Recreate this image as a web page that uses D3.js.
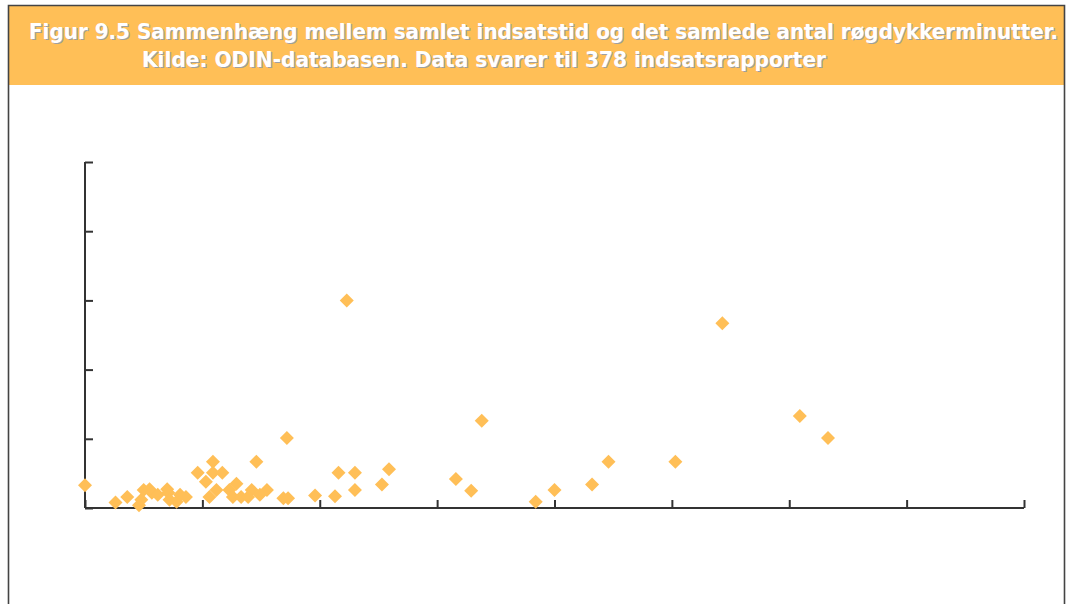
<html>
<head>
    <title>Figur 9.5</title>
    <script src="https://cdn.jsdelivr.net/npm/d3@7"></script>
    <style>
        body { margin: 0; background: #fff; }
        .title { font-family: "DejaVu Sans Condensed", "DejaVu Sans", sans-serif; font-weight: bold; font-size: 21px; }
    </style>
</head>
<body>
<script>
    // indsatstid (x) og roegdykkerminutter (y), aflaest fra figuren
    var indsatstid = [0, 26, 36, 46, 48, 50, 55, 57, 62, 70, 71, 72, 78, 81, 86,
        96, 103, 106, 109, 109, 117, 112, 123, 129, 126, 133, 142, 139, 146, 149, 155,
        169, 173, 172, 196, 213, 216, 223, 230, 230, 253, 259, 316, 329, 338, 384,
        400, 432, 446, 503, 543, 609, 633];
    var roegdykmin = [33, 8, 16, 4, 12, 26, 27, 22, 19, 27, 22, 12, 9, 19, 16,
        51, 38, 16, 67, 51, 51, 26, 26, 35, 16, 16, 26, 16, 67, 19, 26,
        14, 14, 101, 18, 17, 51, 300, 51, 26, 34, 56, 42, 25, 126, 9,
        26, 34, 67, 67, 267, 133, 101];
    var xTicks = [0, 100, 200, 300, 400, 500, 600, 700, 800];
    var yTicks = [0, 100, 200, 300, 400, 500];

    var titleLines = [
        "Figur 9.5 Sammenhæng mellem samlet indsatstid og det samlede antal røgdykkerminutter.",
        "Kilde: ODIN-databasen. Data svarer til 378 indsatsrapporter"
    ];

    var width = 1069, height = 604;
    var svg = d3.select("body").append("svg")
        .attr("width", width).attr("height", height);

    // ramme + overskriftsfelt
    svg.append("rect").attr("x", 9).attr("y", 6).attr("width", 1055).attr("height", 79)
        .attr("fill", "#ffbf57");
    svg.append("path").attr("d", "M8.5,620 V5.5 H1064.5 V620")
        .attr("fill", "none").attr("stroke", "#444").attr("stroke-width", 1.6);

    var tx = [[29, 39, 1029], [142, 67, 684]];
    titleLines.forEach(function(t, i) {
        [["#a0a0a0", 1.2], ["#fff", 0]].forEach(function(s) {
            svg.append("text").attr("class", "title")
                .attr("x", tx[i][0] + s[1]).attr("y", tx[i][1] + s[1])
                .attr("textLength", tx[i][2]).attr("lengthAdjust", "spacingAndGlyphs")
                .attr("fill", s[0]).text(t);
        });
    });

    var x = d3.scaleLinear().domain([0, 800]).range([85, 1024]);
    var y = d3.scaleLinear().domain([0, 500]).range([508, 162]);

    var gx = svg.append("g").attr("transform", "translate(0,508)")
        .call(d3.axisTop(x).tickValues(xTicks).tickSize(8).tickFormat(""));
    var gy = svg.append("g").attr("transform", "translate(85,0)")
        .call(d3.axisRight(y).tickValues(yTicks).tickSize(8).tickFormat(""));
    svg.selectAll(".domain").attr("stroke", "#333").attr("stroke-width", 2);
    svg.selectAll(".tick line").attr("stroke", "#333").attr("stroke-width", 2);
    gx.select(".domain").attr("d", "M85,0H1024");
    gy.select(".domain").attr("d", "M0,162V508");

    var diamond = d3.symbol().type(d3.symbolDiamond2).size(125);
    svg.append("g").selectAll("path")
        .data(indsatstid)
        .enter().append("path")
        .attr("transform", function(d, i) { return "translate(" + x(d) + "," + y(roegdykmin[i]) + ")"; })
        .attr("d", diamond)
        .attr("fill", "#ffbf57");
</script>
</body>
</html>
